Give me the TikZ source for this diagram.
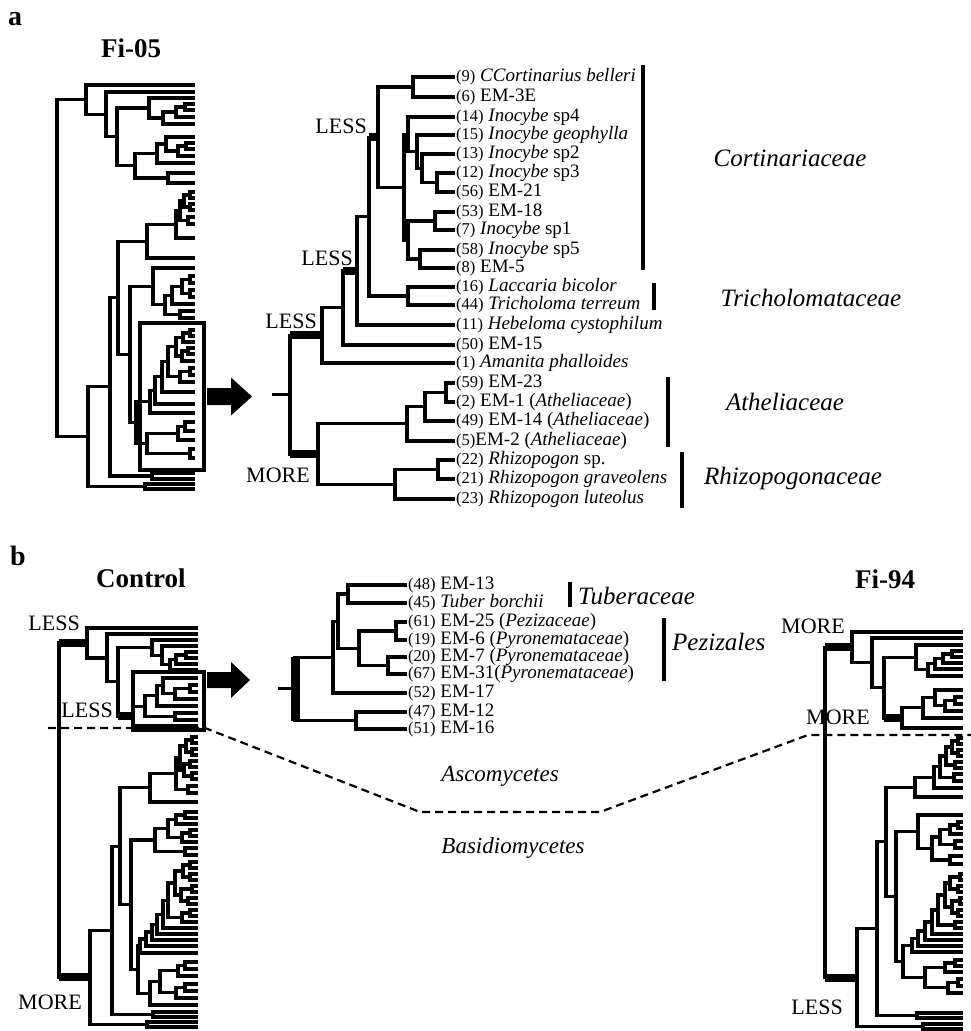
\documentclass[tikz,border=0pt]{standalone}
\usepackage{fontspec}
\setmainfont{Liberation Serif}
\usepackage{tikz}
\usetikzlibrary{calc,positioning}
\tikzset{
    branch/.style={line width=3.1pt, line join=miter},
    bar/.style={line width=8pt},
    leaf/.style={anchor=west, inner sep=1pt, text height=12pt, text depth=4pt, font=\fontsize{19}{19}\selectfont},
    asleaf/.style={leaf, inner xsep=1pt, inner ysep=0.5pt, text height=11.5pt, text depth=3.5pt},
    tag/.style={inner sep=0pt, anchor=south east, font=\fontsize{22}{22}\selectfont},
    family/.style={inner sep=0pt, font=\itshape\fontsize{25}{25}\selectfont},
    famline/.style={line width=4.5pt},
    title/.style={inner sep=0pt, anchor=base, font=\bfseries\fontsize{27}{27}\selectfont},
    panel/.style={inner sep=0pt, anchor=base west, font=\bfseries\fontsize{28}{28}\selectfont},
    zoombox/.style={draw, line width=4pt, inner sep=0pt},
    divider/.style={line width=2.2pt, dash pattern=on 8pt off 5pt}
}
\newcommand\otu[1]{{\fontsize{16.5}{16.5}\selectfont(#1)}}
% clade: name, x of the node, upper child, lower child
\newcommand\clade[4]{%
  \path ($(#3)!0.5!(#4)$) coordinate (#1-m);
  \coordinate (#1) at (#2,0 |- #1-m);
  \draw[branch] (#3) -| (#1) |- (#4);
}

\begin{document}
\begin{tikzpicture}[x=1pt, y=-1pt]
\useasboundingbox (0,0) rectangle (971,1031);

% ---------------- panel a ----------------
\node[panel] (pa) at (8,25) {a};
\node[title] (fi05) at (131,57) {Fi-05};

% Fi-05 whole tree
\foreach \i/\y in {0/85,1/92,2/98,3/104,4/110,5/117,6/124,7/137,8/143,9/149,10/156,11/163,12/173,13/183,14/192,15/198,16/204,17/210,18/217,19/224,20/238,21/258,22/268,23/276,24/283,25/290,26/297,27/304,28/311,29/318,30/330,31/336,32/342,33/348,34/354,35/361,36/368,37/375,38/382,39/392,40/404,41/413,42/422,43/431,44/440,45/449,46/458,47/473,48/479,49/484,50/489}
  \coordinate (f\i) at (195,\y);
\clade{fc1}{185}{f3}{f4}
\clade{fc2}{176}{fc1}{f5}
\clade{fc3}{163}{fc2}{f6}
\clade{fc4}{149}{f2}{fc3}
\clade{fc5}{186}{f8}{f9}
\clade{fc6}{178}{fc5}{f10}
\clade{fc7}{166}{f7}{fc6}
\clade{fc8}{157}{fc7}{f11}
\clade{fc9}{168}{f12}{f13}
\clade{fc10}{135}{fc8}{fc9}
\clade{fc11}{117}{fc4}{fc10}
\clade{fc12}{106}{f1}{fc11}
\clade{fc13}{86}{f0}{fc12}
\clade{fm1}{190}{f14}{f15}
\clade{fm2}{190}{f16}{f17}
\clade{fm3}{184}{fm1}{fm2}
\clade{fm4}{188}{f18}{f19}
\clade{fm5}{180}{fm3}{fm4}
\clade{fm6}{176}{fm5}{f20}
\clade{fm7}{147}{fm6}{f21}
\clade{fn1}{190}{f23}{f24}
\clade{fn2}{190}{f25}{f26}
\clade{fn3}{182}{fn1}{fn2}
\clade{fn4}{172}{fn3}{f27}
\clade{fn5}{180}{f28}{f29}
\clade{fn6}{165}{fn4}{fn5}
\clade{fn7}{153}{f22}{fn6}
\clade{fb1}{190}{f30}{f31}
\clade{fb2}{183}{fb1}{f32}
\clade{fb3}{188}{f33}{f34}
\clade{fb4}{182}{fb3}{f35}
\clade{fb5}{176}{fb2}{fb4}
\clade{fb6}{190}{f36}{f37}
\clade{fb7}{180}{fb6}{f38}
\clade{fb8}{168}{fb5}{fb7}
\clade{fb9}{162}{fb8}{f39}
\clade{fb10}{155}{fb9}{f40}
\clade{fb11}{150}{fb10}{f41}
\clade{fb12}{185}{f42}{f43}
\clade{fb13}{178}{fb12}{f44}
\clade{fb14}{190}{f45}{f46}
\clade{fb15}{147}{fb13}{fb14}
\clade{fbox}{136}{fb11}{fb15}
\clade{fn8}{130}{fn7}{fbox}
\clade{fn9}{118}{fm7}{fn8}
\clade{fq1}{152}{f47}{f48}
\clade{fn10}{110}{fn9}{fq1}
\clade{fq2}{145}{f49}{f50}
\clade{fn11}{88}{fn10}{fq2}
\clade{fRoot}{57}{fc13}{fn11}

\node[zoombox, minimum width=64, minimum height=147] (boxA) at (172,396.5) {};
\fill ($(boxA.east)+(1,-8.5)$) -- ++(24,0) -- ++(0,-10.5) -- ++(21,19) -- ++(-21,19) -- ++(0,-10.5) -- ++(-24,0) -- cycle;

% zoomed subtree
\node[leaf] (a0) at (455,77) {\otu{9} \textit{CCortinarius belleri}};
\node[leaf] (a1) at (455,97) {\otu{6} EM-3E};
\node[leaf] (a2) at (455,117) {\otu{14} \textit{Inocybe} sp4};
\node[leaf] (a3) at (455,135) {\otu{15} \textit{Inocybe geophylla}};
\node[leaf] (a4) at (455,154) {\otu{13} \textit{Inocybe} sp2};
\node[leaf] (a5) at (455,173) {\otu{12} \textit{Inocybe} sp3};
\node[leaf] (a6) at (455,192) {\otu{56} EM-21};
\node[leaf] (a7) at (455,212) {\otu{53} EM-18};
\node[leaf] (a8) at (455,230) {\otu{7} \textit{Inocybe} sp1};
\node[leaf] (a9) at (455,250) {\otu{58} \textit{Inocybe} sp5};
\node[leaf] (a10) at (455,268) {\otu{8} EM-5};
\node[leaf] (a11) at (455,287) {\otu{16} \textit{Laccaria bicolor}};
\node[leaf] (a12) at (455,305) {\otu{44} \textit{Tricholoma terreum}};
\node[leaf] (a13) at (455,325) {\otu{11} \textit{Hebeloma cystophilum}};
\node[leaf] (a14) at (455,345) {\otu{50} EM-15};
\node[leaf] (a15) at (455,363) {\otu{1} \textit{Amanita phalloides}};
\node[leaf] (a16) at (455,383) {\otu{59} EM-23};
\node[leaf] (a17) at (455,402) {\otu{2} EM-1 (\textit{Atheliaceae})};
\node[leaf] (a18) at (455,421) {\otu{49} EM-14 (\textit{Atheliaceae})};
\node[leaf] (a19) at (455,441) {\otu{5}EM-2 (\textit{Atheliaceae})};
\node[leaf] (a20) at (455,460) {\otu{22} \textit{Rhizopogon} sp.};
\node[leaf] (a21) at (455,479) {\otu{21} \textit{Rhizopogon graveolens}};
\node[leaf] (a22) at (455,499) {\otu{23} \textit{Rhizopogon luteolus}};

\clade{aA}{413}{a0}{a1}
\clade{aB1}{437}{a5}{a6}
\clade{aB2}{422}{a4}{aB1}
\clade{aB3}{417}{a3}{aB2}
\clade{aB4}{408}{a2}{aB3}
\clade{aC1}{435}{a7}{a8}
\clade{aC2}{420}{a9}{a10}
\clade{aC3}{408}{aC1}{aC2}
\clade{aD}{404}{aB4}{aC3}
\clade{aE}{378}{aA}{aD}
\clade{aF}{408}{a11}{a12}
\clade{aG}{369}{aE}{aF}
\clade{aH}{357}{aG}{a13}
\clade{aI}{343}{aH}{a14}
\clade{aJ}{322}{aI}{a15}
\clade{aK1}{446}{a16}{a17}
\clade{aK2}{425}{aK1}{a18}
\clade{aK3}{407}{aK2}{a19}
\clade{aL1}{438}{a20}{a21}
\clade{aL2}{395}{aL1}{a22}
\clade{aM}{318}{aK3}{aL2}
\clade{aRoot}{290}{aJ}{aM}
\coordinate (aStub) at ($(aRoot)+(-18,0)$);
\draw[branch] (aStub) -- (aRoot);

\draw[bar] (aG |- aE) -- (aE);
\draw[bar] (aI |- aH) -- (aH);
\draw[bar] (aRoot |- aJ) -- (aJ);
\draw[bar] (aRoot |- aM) -- (aM);
\node[tag] (lessE) at (367,134) {LESS};
\node[tag] (lessH) at (353,266) {LESS};
\node[tag] (lessJ) at (317,329) {LESS};
\node[tag] (moreM) at (310,483) {MORE};

% families
\draw[famline] (643,65) -- (643,270);
\node[family] (cortin) at (790,158) {Cortinariaceae};
\draw[famline] (654,283) -- (654,310);
\node[family] (tricho) at (811,298) {Tricholomataceae};
\draw[famline] (668,377) -- (668,447);
\node[family] (athel) at (785,402) {Atheliaceae};
\draw[famline] (682,452) -- (682,508);
\node[family] (rhizo) at (793,478) {Rhizopogonaceae};

% ---------------- panel b ----------------
\node[panel] (pb) at (10,565) {b};
\node[title] (control) at (141,587) {Control};
\node[title] (fi94) at (885,588) {Fi-94};

% Control tree
\foreach \i/\y in {0/628,1/634,2/640,3/646,4/652,5/658,6/664,7/670,8/678,9/685,10/692,11/699,12/706,13/713,14/720,15/726,16/737,17/743,18/749,19/755,20/761,21/767,22/773,23/779,24/786,25/793,26/802,27/812,28/818,29/824,30/830,31/836,32/842,33/848,34/855,35/862,36/868,37/874,38/880,39/886,40/892,41/898,42/904,43/910,44/916,45/922,46/928,47/934,48/940,49/946,50/953,51/962,52/969,53/976,54/984,55/991,56/998,57/1005,58/1012,59/1017,60/1022,61/1027}
  \coordinate (c\i) at (198,\y);
\clade{ck1}{186}{c4}{c5}
\clade{ck2}{176}{ck1}{c6}
\clade{ck3}{170}{ck2}{c7}
\clade{ck4}{162}{c3}{ck3}
\clade{ck5}{152}{c2}{ck4}
\clade{ch1}{190}{c9}{c10}
\clade{ch2}{175}{ch1}{c11}
\clade{ch3}{163}{c8}{ch2}
\clade{ch4}{157}{ch3}{c12}
\clade{ch5}{175}{c13}{c14}
\clade{ch6}{145}{ch4}{ch5}
\clade{cbox}{133}{ch6}{c15}
\clade{c118}{118}{ck5}{cbox}
\clade{c107}{107}{c1}{c118}
\clade{c87}{87}{c0}{c107}
\clade{ca1}{192}{c16}{c17}
\clade{ca2}{192}{c18}{c19}
\clade{ca3}{186}{ca1}{ca2}
\clade{ca4}{190}{c20}{c21}
\clade{ca5}{192}{c22}{c23}
\clade{ca6}{184}{ca4}{ca5}
\clade{ca7}{180}{ca3}{ca6}
\clade{ca8}{188}{c24}{c25}
\clade{ca9}{176}{ca7}{ca8}
\clade{c150}{150}{ca9}{c26}
\clade{cb1}{185}{c27}{c28}
\clade{cb2}{176}{cb1}{c29}
\clade{cb3}{190}{c30}{c31}
\clade{cb4}{182}{cb3}{c32}
\clade{cb5}{168}{cb2}{cb4}
\clade{cb6}{185}{c33}{c34}
\clade{cb7}{155}{cb5}{cb6}
\clade{cd1}{190}{c35}{c36}
\clade{cd2}{190}{c37}{c38}
\clade{cd3}{183}{cd1}{cd2}
\clade{cd4}{192}{c39}{c40}
\clade{cd5}{188}{c41}{c42}
\clade{cd6}{181}{cd4}{cd5}
\clade{cd7}{175}{cd3}{cd6}
\clade{cd8}{190}{c43}{c44}
\clade{cd9}{182}{cd8}{c45}
\clade{cd10}{168}{cd7}{cd9}
\clade{cd11}{163}{cd10}{c46}
\clade{cd12}{157}{cd11}{c47}
\clade{cd13}{152}{cd12}{c48}
\clade{cd14}{146}{cd13}{c49}
\clade{cd15}{140}{cd14}{c50}
\clade{cg1}{185}{c51}{c52}
\clade{cg2}{178}{cg1}{c53}
\clade{cg3}{185}{c54}{c55}
\clade{cg4}{176}{cg3}{c56}
\clade{cg5}{160}{cg2}{cg4}
\clade{cg6}{150}{cg5}{c57}
\clade{ce}{138}{cd15}{cg6}
\clade{c131}{131}{cb7}{ce}
\clade{c120}{120}{c150}{c131}
\clade{cp1}{153}{c58}{c59}
\clade{c112}{112}{c120}{cp1}
\clade{cp2}{147}{c60}{c61}
\clade{c90}{90}{c112}{cp2}
\clade{cRoot}{59}{c87}{c90}
\draw[bar] (cRoot |- c87) -- (c87);
\draw[bar] (c118 |- cbox) -- (cbox);
\draw[bar] (cRoot |- c90) -- (c90);
\node[tag] (lessC1) at (80,631) {LESS};
\node[tag] (lessC2) at (113,718) {LESS};
\node[tag] (moreC) at (82,1010) {MORE};

\node[zoombox, minimum width=71, minimum height=58] (boxB) at (168.5,701) {};
\fill ($(boxB.east)+(1,-29)$) -- ++(24,0) -- ++(0,-10) -- ++(19,18) -- ++(-19,18) -- ++(0,-10) -- ++(-24,0) -- cycle;

% zoomed Ascomycete subtree
\node[asleaf] (b0) at (407,585) {\otu{48} EM-13};
\node[asleaf] (b1) at (407,603) {\otu{45} \textit{Tuber borchii}};
\node[asleaf] (b2) at (407,622) {\otu{61} EM-25 (\textit{Pezizaceae})};
\node[asleaf] (b3) at (407,640) {\otu{19} EM-6 (\textit{Pyronemataceae})};
\node[asleaf] (b4) at (407,657) {\otu{20} EM-7 (\textit{Pyronemataceae})};
\node[asleaf] (b5) at (407,674) {\otu{67} EM-31(\textit{Pyronemataceae})};
\node[asleaf] (b6) at (407,693) {\otu{52} EM-17};
\node[asleaf] (b7) at (407,712) {\otu{47} EM-12};
\node[asleaf] (b8) at (407,729) {\otu{51} EM-16};
\clade{bT}{348}{b0}{b1}
\clade{bP1}{396}{b2}{b3}
\clade{bP2}{388}{b4}{b5}
\clade{bP3}{359}{bP1}{bP2}
\clade{bQ}{338}{bT}{bP3}
\clade{bR}{333}{bQ}{b6}
\clade{bS}{356}{b7}{b8}
\clade{bRoot}{295}{bR}{bS}
\coordinate (bStub) at ($(bRoot)+(-17,0)$);
\draw[branch] (bStub) -- (bRoot);
\draw[line width=9pt] (bRoot |- bR) -- (bRoot |- bS);

\draw[famline] (570,582) -- (570,607);
\node[family, anchor=west] (tuber) at (578,596) {Tuberaceae};
\draw[famline] (664,618) -- (664,681);
\node[family, anchor=west] (peziz) at (672,642) {Pezizales};

% Fi-94 tree
\foreach \i/\y in {0/632,1/638,2/645,3/651,4/657,5/663,6/669,7/676,8/690,9/697,10/704,11/711,12/718,13/728,14/738,15/744,16/750,17/756,18/762,19/768,20/774,21/781,22/788,23/797,24/815,25/822,26/828,27/834,28/841,29/848,30/856,31/864,32/874,33/880,34/886,35/892,36/898,37/904,38/910,39/916,40/922,41/928,42/934,43/940,44/946,45/952,46/960,47/966,48/972,49/979,50/986,51/993,52/1013,53/1018,54/1024,55/1029}
  \coordinate (g\i) at (963,\y);
\clade{gr1}{952}{g3}{g4}
\clade{gr2}{943}{gr1}{g5}
\clade{gr3}{935}{gr2}{g6}
\clade{gr4}{928}{gr3}{g7}
\clade{g916}{916}{g2}{gr4}
\clade{gs1}{955}{g9}{g10}
\clade{gs2}{945}{gs1}{g11}
\clade{gs3}{935}{g8}{gs2}
\clade{gs4}{923}{gs3}{g12}
\clade{g902}{902}{gs4}{g13}
\clade{g884}{884}{g916}{g902}
\clade{g872}{872}{g1}{g884}
\clade{g852}{852}{g0}{g872}
\clade{gt1}{958}{g14}{g15}
\clade{gt2}{958}{g16}{g17}
\clade{gt3}{952}{gt1}{gt2}
\clade{gt4}{955}{g18}{g19}
\clade{gt5}{946}{gt3}{gt4}
\clade{gt6}{954}{g20}{g21}
\clade{gt7}{940}{gt5}{gt6}
\clade{gt8}{934}{gt7}{g22}
\clade{g915}{915}{gt8}{g23}
\clade{gu1}{958}{g25}{g26}
\clade{gu2}{950}{gu1}{g27}
\clade{gu3}{955}{g28}{g29}
\clade{gu4}{940}{gu2}{gu3}
\clade{gu5}{950}{g30}{g31}
\clade{gu6}{932}{gu4}{gu5}
\clade{g918}{918}{g24}{gu6}
\clade{gv1}{960}{g32}{g33}
\clade{gv2}{958}{g34}{g35}
\clade{gv3}{950}{gv1}{gv2}
\clade{gv4}{960}{g36}{g37}
\clade{gv5}{958}{g38}{g39}
\clade{gv6}{952}{gv4}{gv5}
\clade{gv7}{945}{gv3}{gv6}
\clade{gv8}{955}{g40}{g41}
\clade{gv9}{938}{gv7}{gv8}
\clade{gv10}{932}{gv9}{g42}
\clade{gv11}{925}{gv10}{g43}
\clade{gv12}{918}{gv11}{g44}
\clade{gv13}{912}{gv12}{g45}
\clade{gw1}{955}{g46}{g47}
\clade{gw2}{945}{gw1}{g48}
\clade{gw3}{958}{g49}{g50}
\clade{gw4}{948}{gw3}{g51}
\clade{gw5}{925}{gw2}{gw4}
\clade{g903}{903}{gv13}{gw5}
\clade{g896}{896}{g918}{g903}
\clade{g886}{886}{g915}{g896}
\clade{gp1}{917}{g52}{g53}
\clade{g877}{877}{g886}{gp1}
\clade{gp2}{923}{g54}{g55}
\clade{g857}{857}{g877}{gp2}
\clade{gRoot}{825}{g852}{g857}
\draw[bar] (gRoot |- g852) -- (g852);
\draw[bar] (g884 |- g902) -- (g902);
\draw[bar] (gRoot |- g857) -- (g857);
\node[tag] (moreG1) at (845,634) {MORE};
\node[tag] (moreG2) at (870,725) {MORE};
\node[tag] (lessG) at (843,1015) {LESS};

% Ascomycetes / Basidiomycetes divide
\draw[divider] (48,728) -- (205,728) -- (420,812) -- (600,812) -- (808,735) -- (971,735);
\node[family, font=\itshape\fontsize{23}{23}\selectfont] (asco) at (500,776) {Ascomycetes};
\node[family, font=\itshape\fontsize{23}{23}\selectfont] (basid) at (513,848) {Basidiomycetes};
\end{tikzpicture}
\end{document}
